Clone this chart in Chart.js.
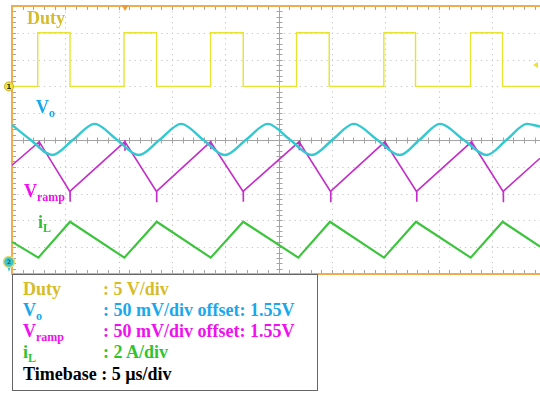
<!DOCTYPE html>
<html>
<head>
<meta charset="utf-8">
<script src="https://cdn.jsdelivr.net/npm/chart.js@4.4.0/dist/chart.umd.min.js"></script>
<style>
  html, body { margin: 0; padding: 0; background: #fff; overflow: hidden; }
  #wrap { position: relative; width: 540px; height: 397px; }
  #scope { position: absolute; left: 0; top: 0; }
  .tag, .row {
    position: absolute; white-space: nowrap;
    font-family: "Liberation Serif", "Times New Roman", serif;
    font-weight: bold; font-size: 18px; line-height: 20px;
  }
  .tag sub, .row sub { font-size: 12px; line-height: 0; vertical-align: -4px; }
  #key {
    position: absolute; left: 12px; top: 274px; width: 306px; height: 117px;
    border: 1px solid #666; box-sizing: border-box; background: #fff;
  }
  .row { left: 10px; }
  .lab { display: inline-block; width: 80px; }
  .cDuty { color: #d6bc2a; }
  .cVo { color: #1aa8ec; }
  .cVr { color: #f010ee; }
  .cIL { color: #2ec42e; }
  .cTb { color: #000; }
</style>
</head>
<body>
<div id="wrap">
  <canvas id="scope" width="540" height="397"></canvas>

  <div class="tag cDuty" style="left:27px;top:8px">Duty</div>
  <div class="tag cVo" style="left:36px;top:97px">V<sub>o</sub></div>
  <div class="tag cVr" style="left:24px;top:181px">V<sub>ramp</sub></div>
  <div class="tag cIL" style="left:38px;top:212px">i<sub>L</sub></div>

  <div id="key">
    <div class="row cDuty" style="top:4px"><span class="lab">Duty</span>: 5 V/div</div>
    <div class="row cVo" style="top:25px"><span class="lab">V<sub>o</sub></span>: 50 mV/div offset: 1.55V</div>
    <div class="row cVr" style="top:46px"><span class="lab">V<sub>ramp</sub></span>: 50 mV/div offset: 1.55V</div>
    <div class="row cIL" style="top:67px"><span class="lab">i<sub>L</sub></span>: 2 A/div</div>
    <div class="row cTb" style="top:89px">Timebase : 5 &micro;s/div</div>
  </div>
</div>

<script>
// ---- Captured waveforms (time in microseconds) ----

// Gate drive: switching instants and the level held after each one (V)
const dutyEdgeT = [0, 2.41, 5.44, 10.50, 13.56, 18.62, 21.68, 26.68, 29.74, 34.86, 37.83, 42.99, 45.99, 49.5];
const dutyLevelV = [0, 10, 0, 10, 0, 10, 0, 10, 0, 10, 0, 10, 0, 0];

// Output voltage ripple (V)
const voT = [0, 1.70, 3.75, 5.75, 7.74, 9.81, 11.88, 13.87, 15.86, 17.90, 19.95, 21.97, 23.98,
             26.04, 28.10, 30.07, 32.04, 34.20, 36.35, 38.24, 40.13, 42.30, 44.50, 46.40, 48.29, 49.5];
const voV = [1.578, 1.551, 1.522, 1.551, 1.580, 1.551, 1.522, 1.551, 1.580, 1.551, 1.522, 1.551, 1.580,
             1.551, 1.522, 1.551, 1.580, 1.551, 1.522, 1.551, 1.580, 1.551, 1.522, 1.551, 1.580, 1.575];

// Ramp voltage (V), with the switching spikes at each corner
const vrampT = [0,
  2.56, 2.56, 2.58,  5.44, 5.44, 5.46,
  10.59, 10.59, 10.61, 13.56, 13.56, 13.58,
  18.63, 18.63, 18.65, 21.68, 21.68, 21.70,
  26.93, 26.93, 26.95, 29.88, 29.88, 29.90,
  34.97, 34.97, 34.99, 37.94, 37.94, 37.96,
  43.10, 43.10, 43.12, 46.06, 46.06, 46.08,
  49.5];
const vrampV = [1.503,
  1.547, 1.534, 1.546,  1.4535, 1.435, 1.4545,
  1.547, 1.530, 1.546,  1.4535, 1.434, 1.4545,
  1.547, 1.533, 1.546,  1.4535, 1.435, 1.4545,
  1.547, 1.531, 1.546,  1.4535, 1.434, 1.4545,
  1.547, 1.533, 1.546,  1.4535, 1.435, 1.4545,
  1.547, 1.532, 1.546,  1.4535, 1.434, 1.4545,
  1.516];

// Inductor current (A)
const iLT = [0, 2.47, 5.44, 10.53, 13.57, 18.63, 21.68, 26.84, 29.81, 34.87, 37.87, 43.00, 46.00, 49.5];
const iLA = [1.5, 0.32, 3.0, 0.32, 3.0, 0.32, 3.0, 0.32, 3.0, 0.32, 3.0, 0.32, 3.0, 1.14];

// Trigger settings
const trigTimeUs = 10.6;
const trigLevelV = 4;

// ---- Point builders ----
function pairs(xs, ys) { return xs.map((x, i) => ({ x: x, y: ys[i] })); }
function steps(ts, levels) {
  const pts = [{ x: ts[0], y: levels[0] }];
  for (let i = 1; i < ts.length; i++) {
    pts.push({ x: ts[i], y: levels[i - 1] });
    pts.push({ x: ts[i], y: levels[i] });
  }
  return pts;
}

// ---- Graticule: dotted divisions, centre cross, border with minor ticks ----
const graticule = {
  id: 'graticule',
  beforeDatasetsDraw(chart) {
    const { ctx, chartArea: a, scales } = chart;
    const sx = scales.x, sd = scales.yDiv;
    ctx.save();
    // dotted division lines
    ctx.strokeStyle = '#c4c4c4';
    ctx.lineWidth = 1;
    ctx.setLineDash([1.2, 4.13]);
    for (let t = 5; t < 49.5; t += 5) {
      if (Math.abs(t - 25) < 0.01) continue;
      const x = Math.round(sx.getPixelForValue(t)) + 0.5;
      ctx.beginPath(); ctx.moveTo(x, a.top); ctx.lineTo(x, a.bottom); ctx.stroke();
    }
    for (let d = -4; d <= 4; d++) {
      if (d === 0) continue;
      const y = Math.round(sd.getPixelForValue(d)) + 0.5;
      ctx.beginPath(); ctx.moveTo(a.left, y); ctx.lineTo(a.right, y); ctx.stroke();
    }
    ctx.setLineDash([]);
    // centre cross
    const cx = Math.round(sx.getPixelForValue(25)) + 0.5;
    const cy = Math.round(sd.getPixelForValue(0)) + 0.5;
    ctx.strokeStyle = '#a4a4a4';
    ctx.beginPath();
    ctx.moveTo(a.left, cy); ctx.lineTo(a.right, cy);
    ctx.moveTo(cx, a.top); ctx.lineTo(cx, a.bottom);
    ctx.stroke();
    ctx.beginPath();
    for (let t = 0; t <= 49.5; t += 1) {
      const x = Math.round(sx.getPixelForValue(t)) + 0.5;
      ctx.moveTo(x, cy - 3); ctx.lineTo(x, cy + 3);
      ctx.moveTo(x, a.top); ctx.lineTo(x, a.top + 4);
      ctx.moveTo(x, a.bottom); ctx.lineTo(x, a.bottom - 4);
    }
    for (let d = -5; d <= 5; d += 0.2) {
      const y = Math.round(sd.getPixelForValue(d)) + 0.5;
      ctx.moveTo(cx - 3, y); ctx.lineTo(cx + 3, y);
      ctx.moveTo(a.left, y); ctx.lineTo(a.left + 4, y);
    }
    ctx.stroke();
    // frame
    ctx.strokeStyle = '#f0ac50';
    ctx.lineWidth = 2;
    ctx.beginPath();
    ctx.moveTo(a.right + 2, a.top); ctx.lineTo(a.left, a.top);
    ctx.lineTo(a.left, a.bottom); ctx.lineTo(a.right + 2, a.bottom);
    ctx.stroke();
    ctx.restore();
  },
  afterDatasetsDraw(chart) {
    const { ctx, chartArea: a, scales } = chart;
    ctx.save();
    // channel 1 ground marker
    const g1 = scales.yDuty.getPixelForValue(0);
    ctx.fillStyle = '#f2e23a';
    ctx.strokeStyle = '#c8b020';
    ctx.lineWidth = 1;
    ctx.beginPath(); ctx.arc(a.left - 3, g1, 4.5, 0, Math.PI * 2); ctx.fill(); ctx.stroke();
    ctx.fillStyle = '#333';
    ctx.font = 'bold 7px "DejaVu Sans", sans-serif';
    ctx.textAlign = 'center'; ctx.textBaseline = 'middle';
    ctx.fillText('1', a.left - 3, g1 + 0.5);
    // current channel ground marker
    const g2 = scales.yI.getPixelForValue(0);
    ctx.fillStyle = '#3cc6cc';
    ctx.beginPath(); ctx.moveTo(a.left - 5, g2 + 4); ctx.lineTo(a.left - 1, g2 + 4);
    ctx.lineTo(a.left - 3, g2 + 10); ctx.closePath(); ctx.fill();
    ctx.strokeStyle = '#e8d870';
    ctx.lineWidth = 1.5;
    ctx.beginPath(); ctx.arc(a.left - 3, g2, 5.5, 0, Math.PI * 2); ctx.fill(); ctx.stroke();
    ctx.fillStyle = '#1a6a70';
    ctx.font = 'bold 6px "DejaVu Sans", sans-serif';
    ctx.fillText('2', a.left - 3, g2 + 0.5);
    // trigger position marker
    const tx = scales.x.getPixelForValue(trigTimeUs);
    ctx.fillStyle = '#f09a30';
    ctx.beginPath(); ctx.moveTo(tx - 3.5, a.top - 1); ctx.lineTo(tx + 3.5, a.top - 1);
    ctx.lineTo(tx, a.top + 5); ctx.closePath(); ctx.fill();
    // trigger level marker
    const ty = scales.yDuty.getPixelForValue(trigLevelV);
    ctx.fillStyle = '#eee23a';
    ctx.beginPath(); ctx.moveTo(a.right - 2, ty - 3); ctx.lineTo(a.right - 7, ty);
    ctx.lineTo(a.right - 2, ty + 3); ctx.closePath(); ctx.fill();
    ctx.restore();
  }
};

new Chart(document.getElementById('scope'), {
  type: 'scatter',
  data: {
    datasets: [
      { label: 'Duty', data: steps(dutyEdgeT, dutyLevelV), yAxisID: 'yDuty',
        showLine: true, borderColor: '#e6e430', borderWidth: 1.4, pointRadius: 0, tension: 0 },
      { label: 'Vo', data: pairs(voT, voV), yAxisID: 'yV',
        showLine: true, borderColor: '#34c8d0', borderWidth: 2.4, pointRadius: 0,
        cubicInterpolationMode: 'monotone' },
      { label: 'Vramp', data: pairs(vrampT, vrampV), yAxisID: 'yV',
        showLine: true, borderColor: '#c42ec8', borderWidth: 1.6, pointRadius: 0, tension: 0 },
      { label: 'iL', data: pairs(iLT, iLA), yAxisID: 'yI',
        showLine: true, borderColor: '#3cc43c', borderWidth: 2.2, pointRadius: 0, tension: 0 }
    ]
  },
  options: {
    responsive: false,
    animation: false,
    devicePixelRatio: 1,
    layout: { padding: { left: 12, top: 6, right: 0, bottom: 123 } },
    plugins: { legend: { display: false }, tooltip: { enabled: false } },
    scales: {
      x: { type: 'linear', min: 0, max: 49.5, display: false },
      yDiv: { type: 'linear', min: -5, max: 5, display: false },
      yDuty: { type: 'linear', min: -35, max: 15, display: false },
      yV: { type: 'linear', min: 1.30, max: 1.80, display: false },
      yI: { type: 'linear', min: -0.9, max: 19.1, display: false }
    }
  },
  plugins: [graticule]
});
</script>
</body>
</html>
